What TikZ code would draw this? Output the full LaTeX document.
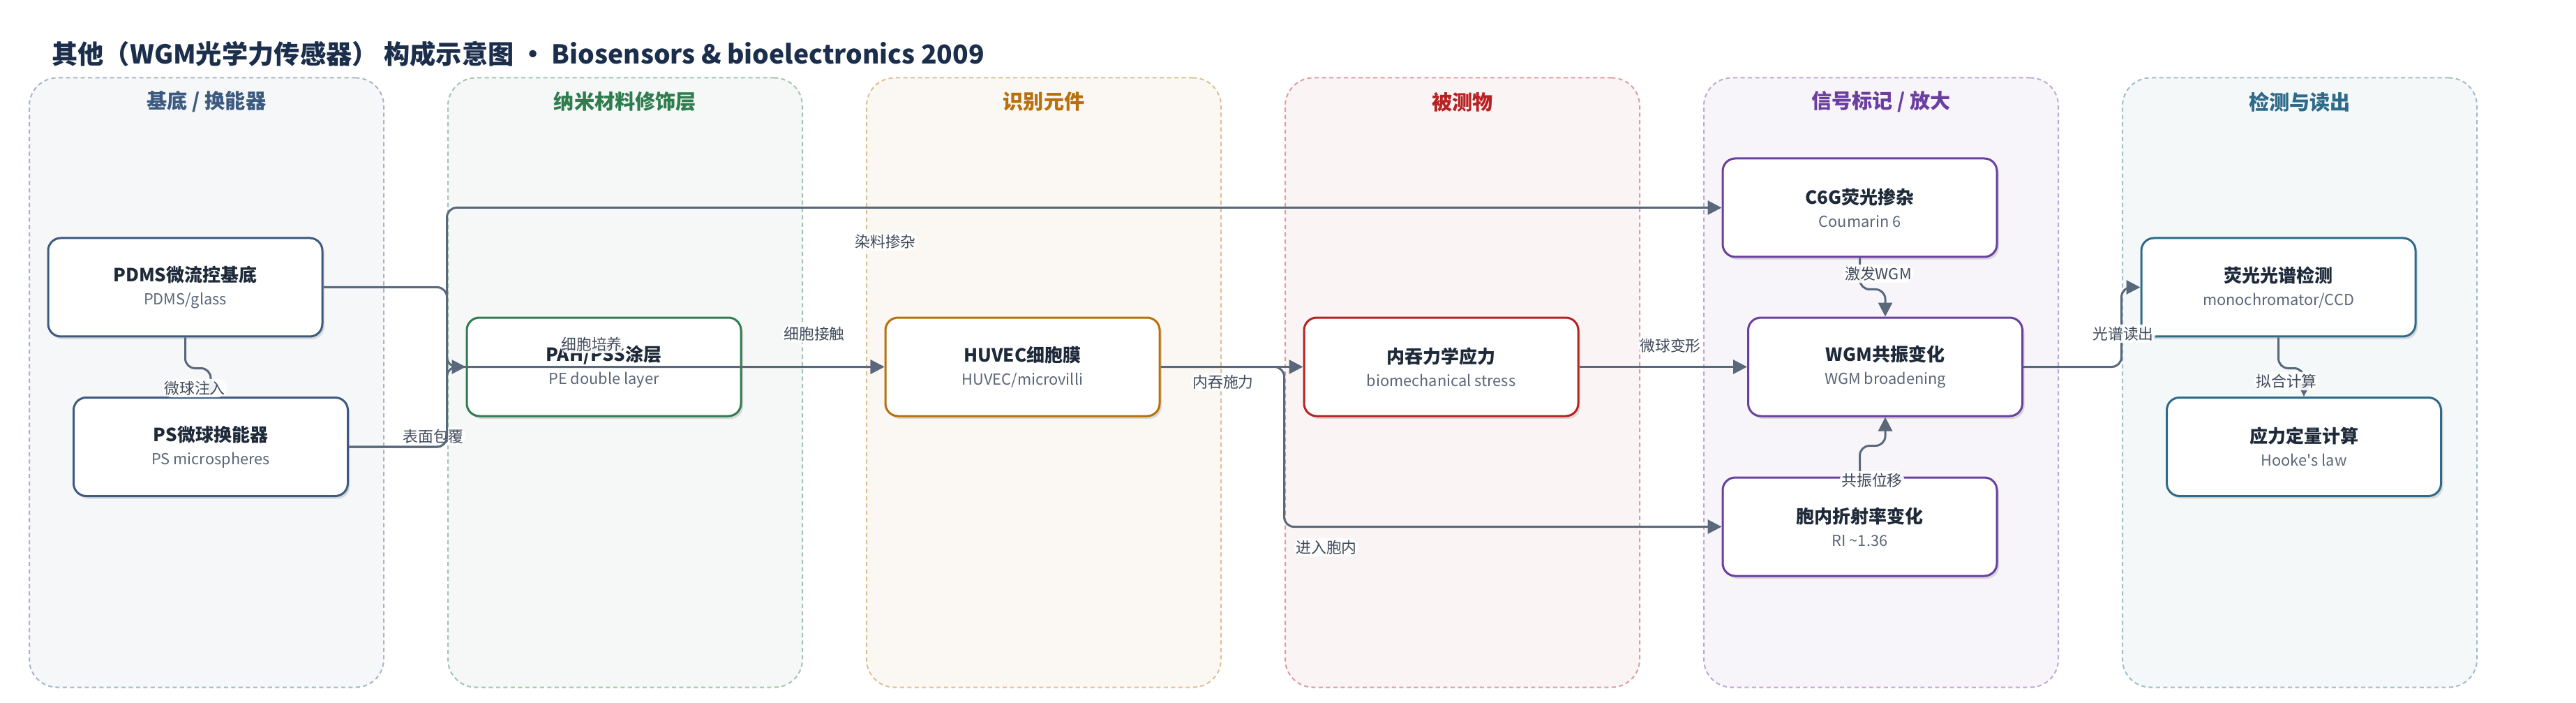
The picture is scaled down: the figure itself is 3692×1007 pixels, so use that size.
\documentclass[tikz,border=0pt]{standalone}
\usepackage{fontspec}
\setmainfont{Noto Sans CJK SC}
\usetikzlibrary{arrows.meta,shadows,calc}

\definecolor{ink}{HTML}{1E2A3A}
\definecolor{headc}{HTML}{1B2E4B}
\definecolor{subc}{HTML}{5B6677}
\definecolor{wirec}{HTML}{5A687C}
\definecolor{lblc}{HTML}{3F4A5A}
\definecolor{laneA}{HTML}{3D5A80}
\definecolor{laneB}{HTML}{2E7D4F}
\definecolor{laneC}{HTML}{B8700A}
\definecolor{laneD}{HTML}{B72222}
\definecolor{laneE}{HTML}{6A3FA0}
\definecolor{laneF}{HTML}{2E6B8A}

\tikzset{
  lane/.style={draw=#1!45, fill=#1!5, dash pattern=on 0.6mm off 0.45mm,
    line width=0.2mm, rounded corners=4mm, minimum width=50.8mm, minimum height=87.3mm},
  lanetitle/.style={text=#1, font=\bfseries\fontsize{8.3}{10}\selectfont},
  box/.style={draw=#1, line width=0.3mm, fill=white, rounded corners=1.8mm,
    minimum width=39.3mm, minimum height=14.1mm, align=center, text=ink,
    font=\fontsize{7.4}{9.4}\selectfont,
    drop shadow={shadow xshift=0.3mm, shadow yshift=-0.4mm, opacity=0.12, fill=black}},
  wire/.style={draw=wirec, line width=0.3mm, rounded corners=1.4mm,
    -{Triangle[length=2mm,width=2mm]}},
  lbl/.style={fill=white, fill opacity=0.9, text opacity=1, text=lblc,
    inner sep=0.3mm, font=\fontsize{6.2}{7}\selectfont}
}
\newcommand{\subline}[1]{{\color{subc}\mdseries\fontsize{6.2}{9.4}\selectfont #1}}

\begin{document}
\begin{tikzpicture}[x=0.1mm,y=-0.1mm]

\fill[white] (0,0) rectangle (3692,1007);

% heading
\node[anchor=west, text=headc, font=\bfseries\fontsize{10.6}{13}\selectfont] (head) at (62,77)
  {其他（WGM光学力传感器） 构成示意图 • Biosensors \& bioelectronics 2009};

% lanes
\node[lane=laneA] (laneA) at (296,548) {};
\node[lane=laneB] (laneB) at (896,548) {};
\node[lane=laneC] (laneC) at (1496,548) {};
\node[lane=laneD] (laneD) at (2096,548) {};
\node[lane=laneE] (laneE) at (2696,548) {};
\node[lane=laneF] (laneF) at (3296,548) {};

\node[lanetitle=laneA] (tA) at (296,146) {基底 / 换能器};
\node[lanetitle=laneB] (tB) at (896,146) {纳米材料修饰层};
\node[lanetitle=laneC] (tC) at (1496,146) {识别元件};
\node[lanetitle=laneD] (tD) at (2096,146) {被测物};
\node[lanetitle=laneE] (tE) at (2696,146) {信号标记 / 放大};
\node[lanetitle=laneF] (tF) at (3296,146) {检测与读出};

% boxes
\node[box=laneA] (pdms) at (265.5,411.5) {\textbf{PDMS微流控基底}\\\subline{PDMS/glass}};
\node[box=laneA] (ps) at (302,640) {\textbf{PS微球换能器}\\\subline{PS microspheres}};
\node[box=laneB] (pah) at (865.5,525.5) {\textbf{PAH/PSS涂层}\\\subline{PE double layer}};
\node[box=laneC] (huvec) at (1465.5,525.5) {\textbf{HUVEC细胞膜}\\\subline{HUVEC/microvilli}};
\node[box=laneD] (stress) at (2065.5,525.5) {\textbf{内吞力学应力}\\\subline{biomechanical stress}};
\node[box=laneE] (c6g) at (2665.5,297.5) {\textbf{C6G荧光掺杂}\\\subline{Coumarin 6}};
\node[box=laneE] (wgm) at (2702,525.5) {\textbf{WGM共振变化}\\\subline{WGM broadening}};
\node[box=laneE] (ri) at (2665.5,754.5) {\textbf{胞内折射率变化}\\\subline{RI \textasciitilde1.36}};
\node[box=laneF] (spec) at (3265.5,411.5) {\textbf{荧光光谱检测}\\\subline{monochromator/CCD}};
\node[box=laneF] (hooke) at (3302,640) {\textbf{应力定量计算}\\\subline{Hooke\textquotesingle s law}};

% junctions
\coordinate (bus) at ($(pah.west)+(-27,0)$);
\coordinate (fork) at ($(stress.west)+(-27,0)$);
\coordinate (tap) at ($(spec.west)+(-27,0)$);

% connectors
\draw[wire] (pdms.south) -- ++(0,44) -| (ps.north) node[lbl] at (279,556) {微球注入};
\draw[wire] (ps.east) -| (bus) -- (pah.west) node[lbl] at (621,625) {表面包覆};
\draw[wire] (pdms.east) -| (bus) -- (huvec.west) node[lbl] at (848,493) {细胞培养};
\draw[wire] (ps.east) -| (bus |- c6g.west) -- (c6g.west) node[lbl] at (1269,346) {染料掺杂};
\draw[wire] (pah.east) -- (huvec.west) node[lbl] at (1167,478) {细胞接触};
\draw[wire] (huvec.east) -- (stress.west) node[lbl] at (1753,547) {内吞施力};
\draw[wire] (huvec.east) -- (fork) |- (ri.west) node[lbl] at (1901,784) {进入胞内};
\draw[wire] (stress.east) -- (wgm.west) node[lbl] at (2394,495) {微球变形};
\draw[wire] (c6g.south) -- ++(0,45) -| (wgm.north) node[lbl] at (2692,392) {激发WGM};
\draw[wire] (ri.north) -- ++(0,-44) -| (wgm.south) node[lbl] at (2683,688) {共振位移};
\draw[wire] (wgm.east) -| (tap) -- (spec.west) node[lbl] at (3043,478) {光谱读出};
\draw[wire] (spec.south) -- ++(0,44) -| (hooke.north) node[lbl] at (3277,546) {拟合计算};

\end{tikzpicture}
\end{document}
